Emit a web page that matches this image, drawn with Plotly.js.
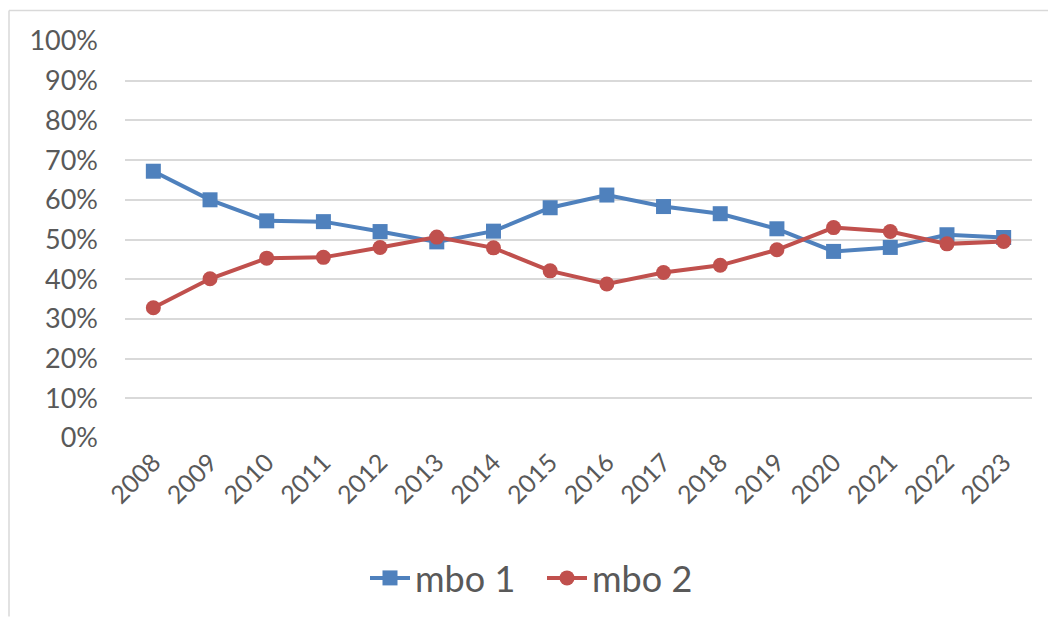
<!DOCTYPE html>
<html>
<head>
<meta charset="utf-8">
<script src="https://cdn.plot.ly/plotly-3.0.1.min.js"></script>
<style>
html,body{margin:0;padding:0;background:#fff;}
#chart{width:1048px;height:618px;}
</style>
</head>
<body>
<div id="chart"></div>
<script>
const years = ['2008','2009','2010','2011','2012','2013','2014','2015','2016','2017','2018','2019','2020','2021','2022','2023'];
const mbo1 = [0.672, 0.600, 0.547, 0.545, 0.520, 0.494, 0.521, 0.580, 0.612, 0.583, 0.565, 0.527, 0.470, 0.480, 0.512, 0.505];
const mbo2 = [0.328, 0.401, 0.453, 0.455, 0.480, 0.506, 0.479, 0.421, 0.388, 0.417, 0.435, 0.474, 0.530, 0.520, 0.489, 0.495];
const seriesNames = ['mbo 1', 'mbo 2'];
const tickVals = [0,0.1,0.2,0.3,0.4,0.5,0.6,0.7,0.8,0.9,1.0];
const tickText = ['0%','10%','20%','30%','40%','50%','60%','70%','80%','90%','100%'];

const fontFam = 'Lato, "Open Sans", sans-serif';
const textColor = '#595959';

const traces = [
  {x: years, y: mbo1, name: seriesNames[0], type: 'scatter', mode: 'lines+markers',
   line: {color: '#4F81BD', width: 4}, marker: {symbol: 'square', size: 15, color: '#4F81BD'}},
  {x: years, y: mbo2, name: seriesNames[1], type: 'scatter', mode: 'lines+markers',
   line: {color: '#C0504D', width: 4}, marker: {symbol: 'circle', size: 15, color: '#C0504D'}}
];

const L = 125, R = 1032, T = 41, B = 439;
const pw = R - L, ph = B - T;
const px = v => (v - L) / pw;
const py = v => (B - v) / ph;

const layout = {
  width: 1048, height: 618,
  margin: {l: L, r: 1048 - R, t: T, b: 618 - B, pad: 0},
  paper_bgcolor: '#fff', plot_bgcolor: '#fff',
  showlegend: true,
  legend: {orientation: 'h', x: px(542), xanchor: 'center', y: py(578), yanchor: 'middle',
           font: {family: fontFam, size: 36, color: textColor}, itemwidth: 40,
           entrywidth: 122, entrywidthmode: 'pixels'},
  xaxis: {type: 'category', range: [-0.5, 15.5], showgrid: false, zeroline: false, showline: false,
          ticks: '', tickangle: -45, tickfont: {family: fontFam, size: 25, color: textColor},
          ticklabelstandoff: 4, fixedrange: true},
  yaxis: {range: [0, 1], tickvals: tickVals, ticktext: tickText, showgrid: true,
          gridcolor: '#d9d9d9', gridwidth: 2, zeroline: false, showline: false, ticks: '',
          ticklabelstandoff: 26,
          tickfont: {family: fontFam, size: 27, color: textColor}, fixedrange: true},
  shapes: [
    {type: 'line', xref: 'paper', yref: 'paper', x0: px(9), x1: px(9), y0: py(618), y1: py(10.5),
     line: {color: '#d9d9d9', width: 1.5}},
    {type: 'line', xref: 'paper', yref: 'paper', x0: px(9), x1: px(1048), y0: py(10.5), y1: py(10.5),
     line: {color: '#d9d9d9', width: 1.5}}
  ]
};

Plotly.newPlot('chart', traces, layout, {displayModeBar: false, staticPlot: true});
</script>
</body>
</html>
